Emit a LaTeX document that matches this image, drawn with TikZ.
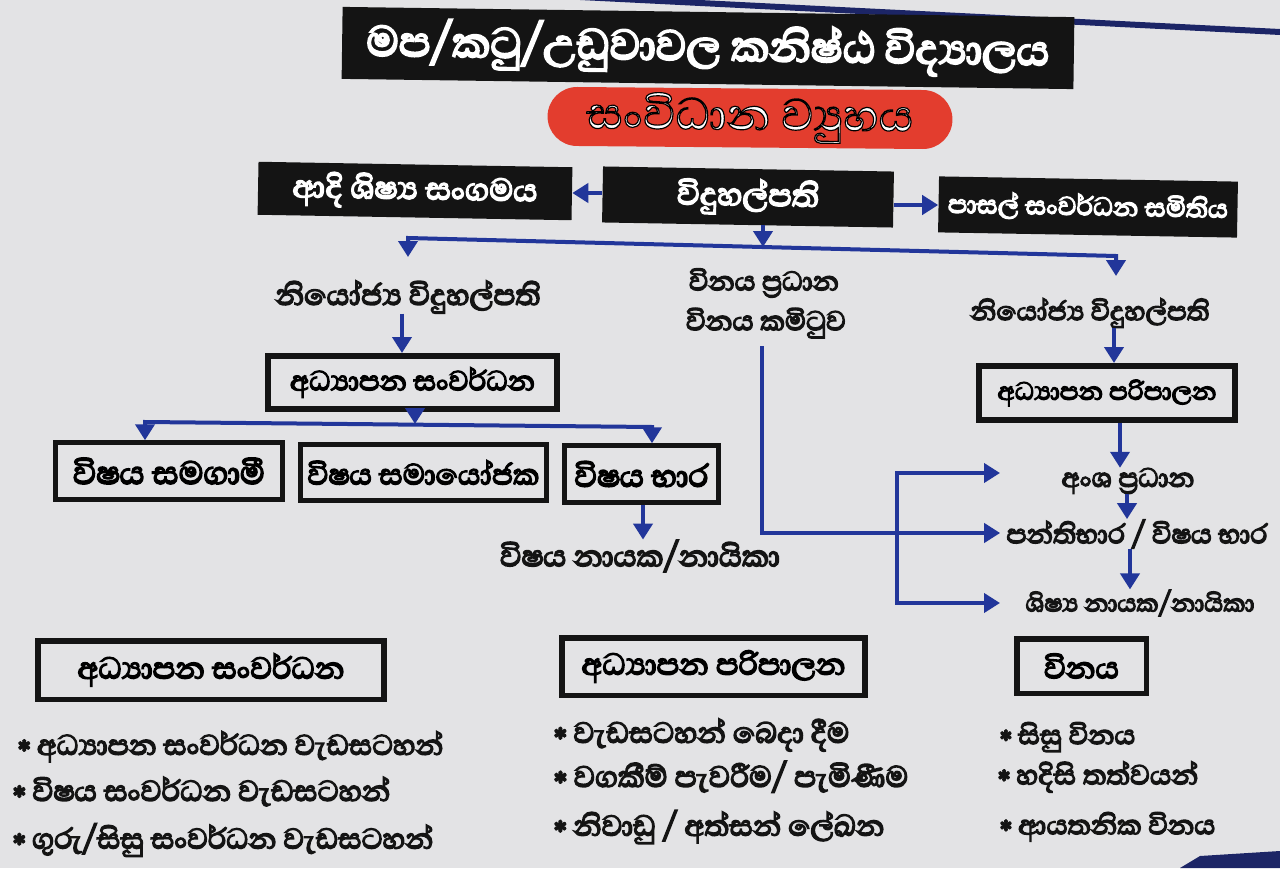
\documentclass[tikz,border=0pt]{standalone}
\usepackage{fontspec}
\usetikzlibrary{arrows.meta}
\newfontfamily\si[Script=Sinhala, FakeBold=4.2]{Abhaya Libre}
\newfontfamily\sio[Script=Sinhala]{Abhaya Libre}
\newlength\pxu
\setlength\pxu{0.02cm}
\newcommand\tw[2]{\resizebox{\dimexpr #1\pxu\relax}{!}{#2}}
\newcommand\outl[1]{\special{pdf:literal direct 0 0 0 RG 2 Tr 0.45 w}#1\special{pdf:literal direct 0 Tr}}
\newcommand\bul{\raisebox{-0.22em}{*}}
\definecolor{bg}{HTML}{E3E3E5}
\definecolor{lineblue}{HTML}{22369A}
\definecolor{pillred}{HTML}{E33D2E}
\definecolor{navy}{HTML}{1C2566}
\definecolor{ink}{HTML}{141414}
\begin{document}
\begin{tikzpicture}[x=0.02cm,y=-0.02cm,
  bbox/.style={fill=ink, text=white, inner sep=0pt},
  fbox/.style={draw=ink, line width=0.11cm, inner sep=0pt},
  lbl/.style={inner sep=0pt, text=ink},
  conn/.style={draw=lineblue, line width=0.08cm},
  arr/.style={conn, -{Triangle[width=0.38cm,length=0.32cm]}},
  arrtwo/.style={conn, {Triangle[width=0.38cm,length=0.32cm]}-{Triangle[width=0.38cm,length=0.32cm]}},
  every node/.style={font=\si}]
\useasboundingbox (0,0) rectangle (1280,868);
\fill[bg] (0,0) rectangle (1280,868);
\draw[navy, line width=0.12cm] (580,-3) -- (1280,32);
\fill[navy] (1180,868) -- (1200,856) -- (1280,851) -- (1280,868) -- cycle;

% title and pill
\node[bbox, minimum width=14.64cm, minimum height=1.44cm, rotate=-0.8] (title) at (708,48)
  {\tw{683}{මප/කටු/උඩුවාවල කනිෂ්ඨ විද්^^^^200dයාලය}};
\node[fill=pillred, rounded corners=0.59cm, minimum width=8.1cm, minimum height=1.18cm, inner sep=0pt, rotate=-0.5] (pill) at (750,118)
  {\tw{327}{\sio\fontsize{22}{22}\selectfont\color{white}\outl{සංවිධාන ව්^^^^200dයුහය}}};

% top row
\node[bbox, rotate=-1, minimum width=6.28cm, minimum height=1.06cm] (adi) at (415,191) {\tw{245}{ආදි ශිෂ්^^^^200dය සංගමය}};
\node[bbox, rotate=-1, minimum width=5.82cm, minimum height=1.12cm] (prin) at (748,197) {\tw{142}{විදුහල්පති}};
\node[bbox, rotate=-1, minimum width=5.98cm, minimum height=1.12cm] (sds) at (1088,207) {\tw{280}{පාසල් සංවර්ධන සමිතිය}};
\coordinate (yL) at (0,193);
\coordinate (yR) at (0,205);
\draw[arr] (prin.west |- yL) -- (adi.east |- yL);
\draw[arr] (prin.east |- yR) -- (sds.west |- yR);

% main bus
\coordinate (busL) at (408,238);
\coordinate (busM) at (763,247);
\coordinate (busR) at (1116,256);
\coordinate (tipL) at (408,257);
\coordinate (tipR) at (1116,276);
\draw[arr] (busM |- prin.south) -- (busM);
\draw[arrtwo] (tipL) -- (busL) -- (busR) -- (tipR);

% left branch
\node[lbl] (dpL) at (408,297) {\tw{265}{නියෝජ්^^^^200dය විදුහල්පති}};
\node[fbox, minimum width=5.79cm, minimum height=1.07cm] (edL) at (412.5,382.5) {\tw{245}{අධ්^^^^200dයාපන සංවර්ධන}};
\coordinate (xA) at (402,0);
\draw[arr] (dpL.south -| xA) -- (edL.north -| xA);

\node[fbox, line width=0.1cm, minimum width=4.53cm, minimum height=1.13cm] (s1) at (169,471) {\tw{192}{විෂය සමගාමී}};
\node[fbox, line width=0.1cm, minimum width=4.91cm, minimum height=1.11cm] (s2) at (423.5,472.5) {\tw{232}{විෂය සමායෝජක}};
\node[fbox, line width=0.1cm, minimum width=3.07cm, minimum height=1.13cm] (s3) at (641.5,474) {\tw{134}{විෂය භාර}};
\coordinate (b2L) at (145,422);
\coordinate (b2M) at (415,424);
\coordinate (b2R) at (652,427);
\draw[arr] (b2M |- edL.south) -- (b2M);
\draw[arrtwo] (b2L |- s1.north) -- (b2L) -- (b2R) -- (b2R |- s3.north);

\node[lbl] (lead) at (640,556) {\tw{280}{විෂය නායක/නායිකා}};
\coordinate (xS) at (643,0);
\draw[arr] (s3.south -| xS) -- (lead.north -| xS);

% middle
\node[lbl] (dh1) at (764,283) {\tw{150}{විනය ප්^^^^200dරධාන}};
\node[lbl] (dh2) at (766,323) {\tw{160}{විනය කමිටුව}};

% right branch
\node[lbl] (dpR) at (1090,313) {\tw{239}{නියෝජ්^^^^200dය විදුහල්පති}};
\node[fbox, minimum width=5.13cm, minimum height=1.09cm] (edR) at (1107,393) {\tw{219}{අධ්^^^^200dයාපන පරිපාලන}};
\node[lbl] (ag) at (1128,481) {\tw{133}{අංශ ප්^^^^200dරධාන}};
\node[lbl] (pt) at (1137,534) {\tw{261}{පන්තිභාර / විෂය භාර}};
\node[lbl] (sn) at (1140,603) {\tw{229}{ශිෂ්^^^^200dය නායක/නායිකා}};
\coordinate (xR1) at (1114,0);
\coordinate (xR2) at (1120,0);
\coordinate (xR3) at (1127,0);
\coordinate (xR4) at (1130,0);
\draw[arr] (dpR.south -| xR1) -- (edR.north -| xR1);
\draw[arr] (edR.south -| xR2) -- (ag.north -| xR2);
\draw[arr] (ag.south -| xR3) -- (pt.north -| xR3);
\draw[arr] (pt.south -| xR4) -- (sn.north -| xR4);

\coordinate (xV) at (762,0);
\coordinate (yM) at (0,533);
\draw[arr, shorten <=0.16cm, shorten >=0.12cm] (dh2.south -| xV) -- (xV |- yM) -- (pt.west |- yM);
\coordinate (xB) at (897,0);
\coordinate (tA) at (1000,473);
\coordinate (tS) at (1000,603);
\draw[arrtwo] (tA) -- (xB |- tA) -- (xB |- tS) -- (tS);

% bottom panels
\node[fbox, minimum width=6.93cm, minimum height=1.17cm] (bx1) at (211,670) {\tw{267}{අධ්^^^^200dයාපන සංවර්ධන}};
\node[lbl, anchor=west] (c1a) at (18,747) {\tw{425}{\bul\ අධ්^^^^200dයාපන සංවර්ධන වැඩසටහන්}};
\node[lbl, anchor=west] (c1b) at (13,793) {\tw{377}{\bul\ විෂය සංවර්ධන වැඩසටහන්}};
\node[lbl, anchor=west] (c1c) at (13,840) {\tw{420}{\bul\ ගුරු/සිසු සංවර්ධන වැඩසටහන්}};

\node[fbox, minimum width=6.07cm, minimum height=1.15cm] (bx2) at (713.5,666.5) {\tw{264}{අධ්^^^^200dයාපන පරිපාලන}};
\node[lbl, anchor=west] (c2a) at (554,735) {\tw{295}{\bul\ වැඩසටහන් බෙදා දීම}};
\node[lbl, anchor=west] (c2b) at (554,778) {\tw{354}{\bul\ වගකීම් පැවරීම/ පැමිණීම}};
\node[lbl, anchor=west] (c2c) at (554,827) {\tw{330}{\bul\ නිවාඩු / අත්සන් ලේඛන}};

\node[fbox, minimum width=2.59cm, minimum height=1.09cm] (bx3) at (1081.5,666) {\tw{75}{විනය}};
\node[lbl, anchor=west] (c3a) at (1000,737) {\tw{135}{\bul\ සිසු විනය}};
\node[lbl, anchor=west] (c3b) at (998,777) {\tw{200}{\bul\ හදිසි තත්වයන්}};
\node[lbl, anchor=west] (c3c) at (1000,827) {\tw{215}{\bul\ ආයතනික විනය}};
\end{tikzpicture}
\end{document}
